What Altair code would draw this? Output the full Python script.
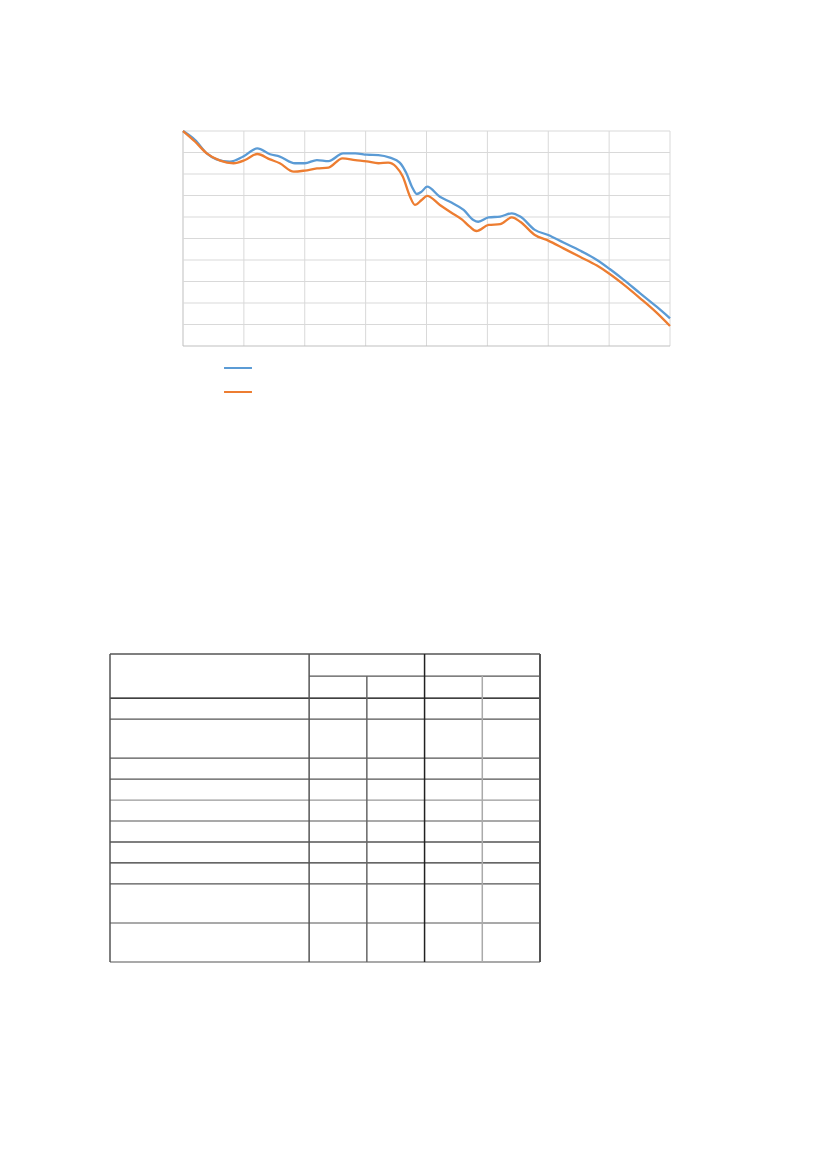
import altair as alt
import pandas as pd

# ---------------- line chart data ----------------
series_names = ["Series 1", "Series 2"]
series_colors = ["#5B9BD5", "#ED7D31"]

blue_x = [0.0, 0.2, 0.39, 0.55, 0.77, 0.99, 1.22, 1.43, 1.59, 1.84, 2.0, 2.2, 2.39, 2.63, 2.83,
          3.02, 3.21, 3.4, 3.56, 3.67, 3.76, 3.84, 3.92, 4.01, 4.22, 4.41, 4.61, 4.77, 4.85, 5.02,
          5.21, 5.4, 5.54, 5.78, 6.0, 6.25, 6.52, 6.8, 7.01, 7.23, 7.51, 7.78, 8.0]
blue_y = [10, 9.58, 8.96, 8.68, 8.57, 8.81, 9.19, 8.92, 8.81, 8.5, 8.5, 8.65, 8.6, 8.96, 8.96,
          8.9, 8.88, 8.76, 8.53, 8.03, 7.41, 7.07, 7.18, 7.41, 6.94, 6.67, 6.33, 5.86, 5.78, 5.98,
          6.02, 6.17, 6.02, 5.4, 5.16, 4.81, 4.44, 4.0, 3.58, 3.1, 2.45, 1.83, 1.29]

orange_x = [0.0, 0.2, 0.39, 0.61, 0.83, 1.02, 1.22, 1.43, 1.59, 1.82, 2.0, 2.2, 2.39, 2.62, 2.83,
            3.02, 3.21, 3.37, 3.5, 3.61, 3.73, 3.81, 3.92, 4.01, 4.22, 4.41, 4.58, 4.71, 4.82, 5.02,
            5.21, 5.4, 5.54, 5.78, 6.0, 6.25, 6.52, 6.8, 7.01, 7.23, 7.51, 7.78, 8.0]
orange_y = [10, 9.5, 8.96, 8.62, 8.5, 8.65, 8.93, 8.68, 8.5, 8.11, 8.16, 8.26, 8.3, 8.73, 8.65,
            8.59, 8.5, 8.53, 8.34, 7.88, 6.94, 6.56, 6.79, 6.98, 6.56, 6.2, 5.89, 5.55, 5.35, 5.63,
            5.67, 5.98, 5.78, 5.16, 4.9, 4.54, 4.15, 3.74, 3.35, 2.88, 2.22, 1.55, 0.93]

x_grid = [0, 1, 2, 3, 4, 5, 6, 7, 8]
y_grid = [0, 1, 2, 3, 4, 5, 6, 7, 8, 9, 10]

# ---------------- table structure data ----------------
col_units = [3.45, 1, 1, 1, 1]          # relative column widths
row_units = [1.05, 1.05, 1, 1.86, 1, 1, 1, 1, 1, 1, 1.86, 1.86]  # relative row heights

# ---------------- build frames ----------------
lines_df = pd.concat([
    pd.DataFrame({"x": blue_x, "y": blue_y, "series": series_names[0]}),
    pd.DataFrame({"x": orange_x, "y": orange_y, "series": series_names[1]}),
], ignore_index=True)

GRID = "#D9D9D9"
EDGE = "#BFBFBF"
vgrid_df = pd.DataFrame({"x": x_grid, "y0": 0, "y1": 10,
                         "c": [EDGE if v == 0 else GRID for v in x_grid]})
hgrid_df = pd.DataFrame({"y": y_grid, "x0": 0, "x1": 8,
                         "c": [EDGE if v == 0 else GRID for v in y_grid]})

col_b = [0.0]
for w in col_units:
    col_b.append(col_b[-1] + w)
row_b = [0.0]
for h in row_units:
    row_b.append(row_b[-1] + h)
tot_c, tot_r = col_b[-1], row_b[-1]

h_colors = ["#000000", "#555555", "#000000", "#555555", "#555555", "#555555", "#999999",
            "#555555", "#000000", "#333333", "#555555", "#555555", "#555555"]
h_rows = []
for i, yb in enumerate(row_b):
    x0 = col_b[1] if i == 1 else 0.0
    h_rows.append({"y": yb, "x0": x0, "x1": tot_c, "c": h_colors[i], "w": 1.2})
hline_df = pd.DataFrame(h_rows)

v_colors = ["#555555", "#555555", "#666666", "#222222", "#AAAAAA", "#555555"]
v_rows = []
for j, xb in enumerate(col_b):
    y0 = row_b[1] if j in (2, 4) else 0.0
    v_rows.append({"x": xb, "y0": y0, "y1": tot_r, "c": v_colors[j],
                   "w": 2.0 if j == len(col_b) - 1 else 1.5})
vline_df = pd.DataFrame(v_rows)

# ---------------- scales (view origin at page 110,131) ----------------
def cx():
    return alt.Scale(domain=[0, 8], range=[73, 560], nice=False, zero=False)

def cy():
    return alt.Scale(domain=[0, 10], range=[215, 0], nice=False, zero=False)

def tx():
    return alt.Scale(domain=[0, tot_c], range=[0, 430], nice=False, zero=False)

def ty():
    return alt.Scale(domain=[0, tot_r], range=[523, 831], nice=False, zero=False)

vgrid = alt.Chart(vgrid_df).mark_rule(strokeWidth=1).encode(
    x=alt.X("x:Q", scale=cx(), axis=None),
    y=alt.Y("y0:Q", scale=cy(), axis=None),
    y2="y1:Q",
    color=alt.Color("c:N", scale=None, legend=None),
)
hgrid = alt.Chart(hgrid_df).mark_rule(strokeWidth=1).encode(
    y=alt.Y("y:Q", scale=cy(), axis=None),
    x=alt.X("x0:Q", scale=cx(), axis=None),
    x2="x1:Q",
    color=alt.Color("c:N", scale=None, legend=None),
)
lines = alt.Chart(lines_df).mark_line(interpolate="monotone", strokeWidth=2.3).encode(
    x=alt.X("x:Q", scale=cx(), axis=None),
    y=alt.Y("y:Q", scale=cy(), axis=None),
    color=alt.Color(
        "series:N",
        scale=alt.Scale(domain=series_names, range=series_colors),
        legend=alt.Legend(
            orient="none", legendX=116, legendY=225, title=None,
            symbolType="M-1.27,0H1.27", symbolSize=484, symbolStrokeWidth=2,
            labelExpr="''", rowPadding=7, padding=0,
        ),
    ),
    order="x:Q",
)

hlines = alt.Chart(hline_df).mark_rule().encode(
    y=alt.Y("y:Q", scale=ty(), axis=None),
    x=alt.X("x0:Q", scale=tx(), axis=None),
    x2="x1:Q",
    color=alt.Color("c:N", scale=None, legend=None),
    strokeWidth=alt.StrokeWidth("w:Q", scale=None, legend=None),
)
vlines = alt.Chart(vline_df).mark_rule().encode(
    x=alt.X("x:Q", scale=tx(), axis=None),
    y=alt.Y("y0:Q", scale=ty(), axis=None),
    y2="y1:Q",
    color=alt.Color("c:N", scale=None, legend=None),
    strokeWidth=alt.StrokeWidth("w:Q", scale=None, legend=None),
)

chart = alt.layer(vgrid, hgrid, lines, hlines, vlines).resolve_scale(
    x="independent", y="independent", color="independent", strokeWidth="independent"
).properties(
    width=560, height=831,
    padding={"left": 102, "top": 123, "right": 5, "bottom": 5},
    autosize=alt.AutoSizeParams(type="none"),
).configure_view(stroke=None).configure_legend(labelFontSize=11)

chart.save("out.html", embed_options={"renderer": "svg", "actions": False})
